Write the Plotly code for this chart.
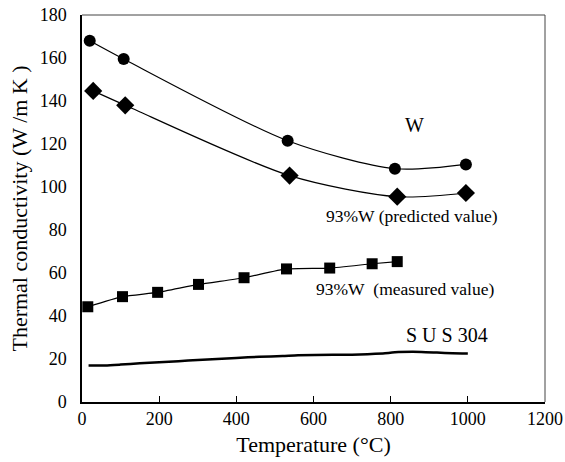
import plotly.graph_objects as go

# W (circles)
w_x = [20, 108, 533, 811, 995]
w_y = [168, 159.5, 121.5, 108.5, 110.5]
# 93%W predicted (diamonds)
wp_x = [29, 112, 538, 817, 995]
wp_y = [144.7, 138, 105.3, 95.5, 97.2]
# 93%W measured (squares)
wm_x = [15, 105, 196, 302, 420, 530, 642, 752, 817]
wm_y = [44.3, 49, 51, 54.7, 57.8, 61.9, 62.3, 64.3, 65.3]
# SUS304 (line)
sus_x = [17, 60, 100, 150, 200, 250, 300, 350, 400, 460, 520, 560, 650, 700, 740, 780, 820, 880, 920, 960, 1000]
sus_y = [17, 17, 17.4, 18, 18.5, 19, 19.5, 20, 20.5, 21, 21.4, 21.8, 22, 22, 22.2, 22.6, 23.2, 23.3, 23, 22.7, 22.6]

FONT = "Liberation Serif"

fig = go.Figure()
fig.add_trace(go.Scatter(x=w_x, y=w_y, mode="lines+markers", line=dict(color="black", width=1.2, shape="spline", smoothing=0.8),
                         marker=dict(symbol="circle", size=12, color="black"), showlegend=False))
fig.add_trace(go.Scatter(x=wp_x, y=wp_y, mode="lines+markers", line=dict(color="black", width=1.2, shape="spline", smoothing=0.8),
                         marker=dict(symbol="diamond", size=14, color="black"), showlegend=False))
fig.add_trace(go.Scatter(x=wm_x, y=wm_y, mode="lines+markers", line=dict(color="black", width=1.2, shape="spline", smoothing=0.5),
                         marker=dict(symbol="square", size=11, color="black"), showlegend=False))
fig.add_trace(go.Scatter(x=sus_x, y=sus_y, mode="lines", line=dict(color="black", width=2.5, shape="spline", smoothing=0.6),
                         showlegend=False))

annots = [
    dict(x=863, y=129, text="W", size=20),
    dict(x=854, y=86.5, text="93%W (predicted value)", size=17.5),
    dict(x=837, y=52.5, text="93%W&nbsp;&nbsp;(measured value)", size=17.5),
    dict(x=945, y=31, text="S U S 304", size=20),
]
for a in annots:
    fig.add_annotation(x=a["x"], y=a["y"], text=a["text"], showarrow=False,
                       font=dict(family=FONT, size=a["size"], color="black"), xanchor="center", yanchor="middle")

fig.add_shape(type="line", xref="paper", yref="paper", x0=0, x1=1, y0=1, y1=1, line=dict(color="#444", width=1))
fig.add_shape(type="line", xref="paper", yref="paper", x0=1, x1=1, y0=0, y1=1, line=dict(color="#444", width=1))

fig.update_layout(
    width=565, height=462,
    margin=dict(l=82, r=20, t=15, b=60, autoexpand=False),
    plot_bgcolor="white", paper_bgcolor="white",
    font=dict(family=FONT, color="black", size=18),
    xaxis=dict(range=[0, 1200], tickvals=[0, 200, 400, 600, 800, 1000, 1200], ticks="inside", ticklen=6, tickcolor="black",
               showline=True, linecolor="black", linewidth=1.5, showgrid=False, zeroline=False, automargin=False,
               title=dict(text="Temperature (°C)", font=dict(size=22, family=FONT), standoff=8),
               tickfont=dict(size=18, family=FONT)),
    yaxis=dict(range=[0, 180], tickvals=list(range(0, 181, 20)), ticks="", showline=True, linecolor="black", linewidth=1.5,
               showgrid=False, zeroline=False, automargin=False, ticklabelstandoff=10,
               title=dict(text="Thermal conductivity (W /m K )", font=dict(size=22, family=FONT), standoff=6),
               tickfont=dict(size=18, family=FONT)),
)
fig.write_html("out.html")
